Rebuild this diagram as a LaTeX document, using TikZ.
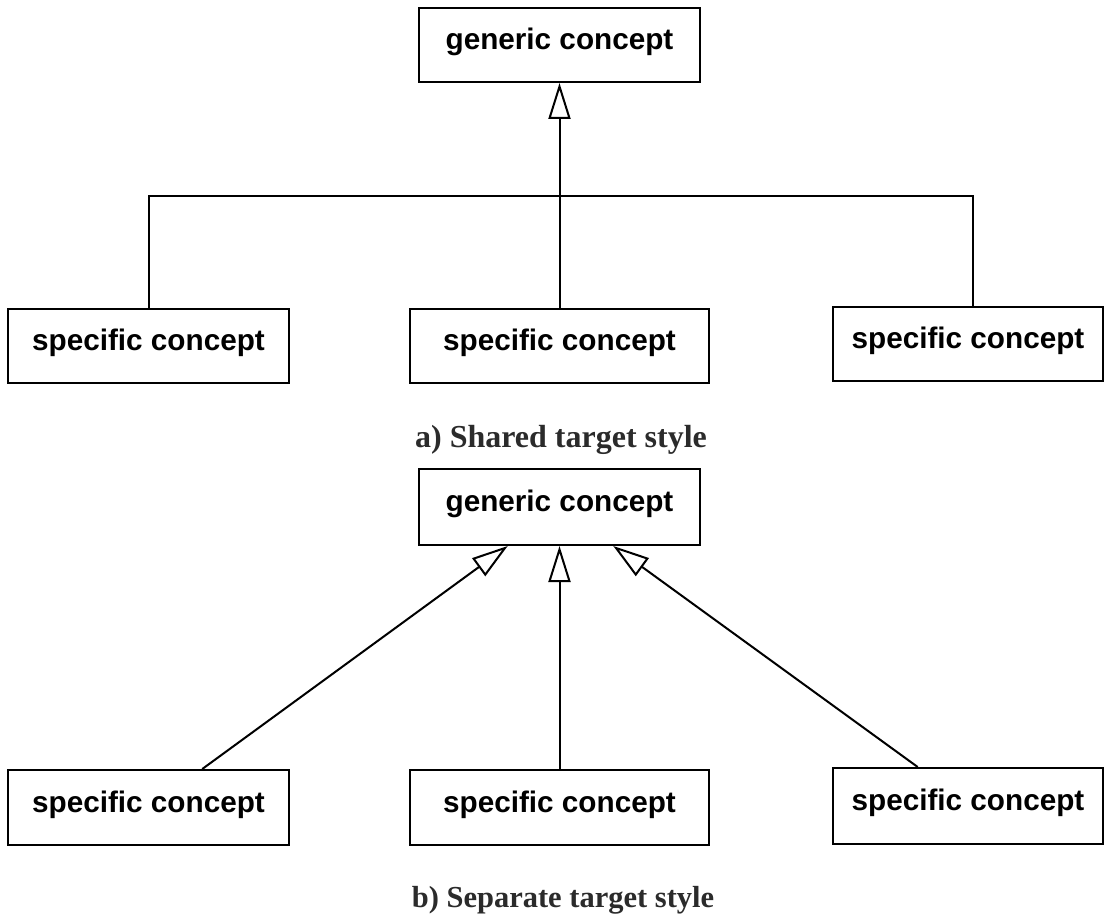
\documentclass[tikz,border=0pt]{standalone}
\usepackage{fontspec}
\newfontfamily\boxfont{Liberation Sans}
\newfontfamily\capfont{Liberation Serif}
\usetikzlibrary{arrows.meta,calc}
\definecolor{capgray}{HTML}{2B2B2B}
\begin{document}
\begin{tikzpicture}[x=1pt,y=-1pt,
  box/.style={draw, line width=2pt, inner sep=0pt,
    font=\boxfont\bfseries\fontsize{29.7}{32}\selectfont,
    text height=28pt, text depth=19pt, minimum height=74pt},
  link/.style={line width=2pt},
  gen/.style={link, -{Triangle[open, length=36pt, width=22pt, line width=2pt]}},
  captext/.style={text=capgray, anchor=base, inner sep=0pt}]
\useasboundingbox (0,0) rectangle (1104,920);
% a) shared target style
\node[box, minimum width=281pt] (ga) at (559.5,45) {generic concept};
\node[box, minimum width=281pt] (sa1) at (148.5,346) {specific concept};
\node[box, minimum width=299pt] (sa2) at (559.5,346) {specific concept};
\node[box, minimum width=270pt] (sa3) at (968,344) {specific concept};
\coordinate (ja) at (559.5,196);
\draw[link] (sa1.north) |- (ja);
\draw[link] ($(sa3.north west)!0.52!(sa3.north east)$) |- (ja);
\draw[gen] (sa2.north) -- (ga.south);
\node[captext, font=\capfont\bfseries\fontsize{32}{36}\selectfont] (capa) at (561,447) {a) Shared target style};
% b) separate target style
\node[box, minimum width=281pt, minimum height=76pt] (gb) at (559.5,507) {generic concept};
\node[box, minimum width=281pt, minimum height=75pt] (sb1) at (148.5,807.5) {specific concept};
\node[box, minimum width=299pt, minimum height=75pt] (sb2) at (559.5,807.5) {specific concept};
\node[box, minimum width=270pt, minimum height=76pt] (sb3) at (968,806) {specific concept};
\draw[gen] ($(sb1.north west)!0.69!(sb1.north east)$) -- ($(gb.south west)!0.317!(gb.south east)$);
\draw[gen] (sb2.north) -- (gb.south);
\draw[gen] ($(sb3.north west)!0.315!(sb3.north east)$) -- ($(gb.south west)!0.69!(gb.south east)$);
\node[captext, font=\capfont\bfseries\fontsize{30.5}{34}\selectfont] (capb) at (563,907) {b) Separate target style};
\end{tikzpicture}
\end{document}
